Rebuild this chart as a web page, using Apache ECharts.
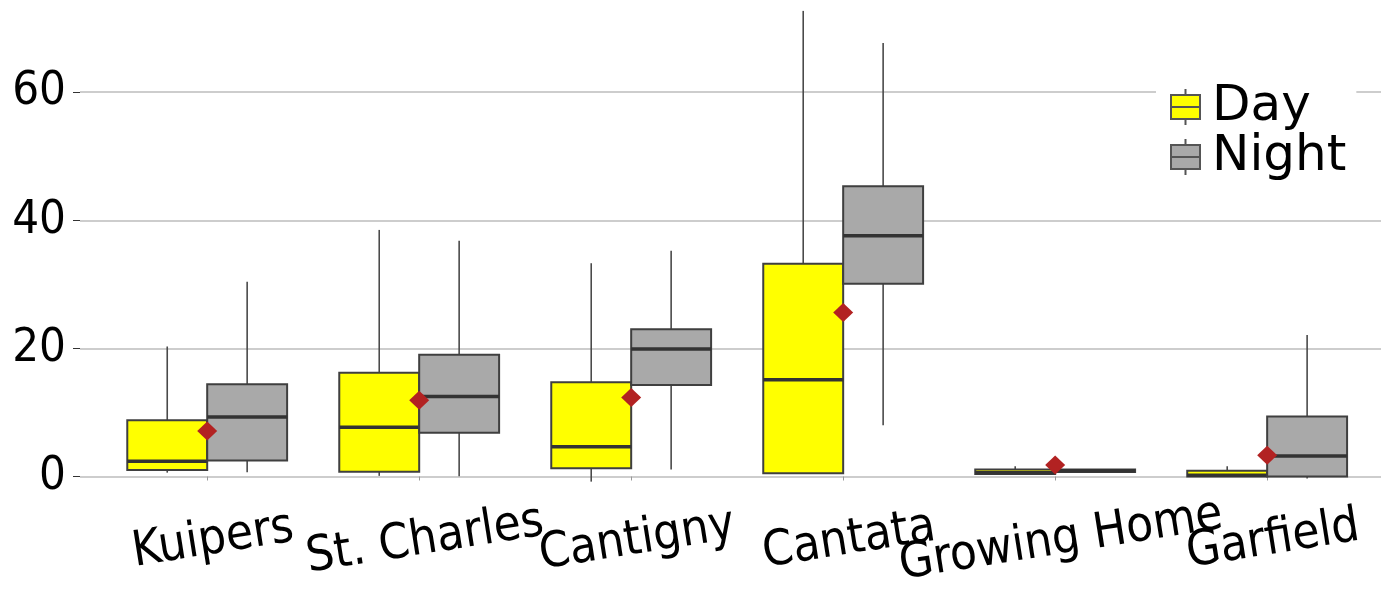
<!DOCTYPE html>
<html>
<head>
<meta charset="utf-8">
<script src="https://cdn.jsdelivr.net/npm/echarts@6/dist/echarts.min.js"></script>
<style>html,body{margin:0;padding:0;background:#fff;}#chart{width:1381px;height:591px;}</style>
</head>
<body>
<div id="chart"></div>
<script>
// ---- data ----
const categories = ['Kuipers', 'St. Charles', 'Cantigny', 'Cantata', 'Growing Home', 'Garfield'];
// [lower whisker, Q1, median, Q3, upper whisker]
const dayStats = [
  [0.6, 1.0, 2.4, 8.8, 20.3],
  [0.1, 0.75, 7.7, 16.2, 38.5],
  [-0.8, 1.3, 4.65, 14.7, 33.3],
  [0.5, 0.5, 15.1, 33.2, 72.7],
  [0.4, 0.4, 0.6, 1.1, 1.6],
  [0.0, 0.0, 0.2, 0.9, 1.6]
];
const nightStats = [
  [0.65, 2.5, 9.3, 14.4, 30.4],
  [0.05, 6.85, 12.5, 19.0, 36.8],
  [1.1, 14.3, 19.9, 23.0, 35.25],
  [8.0, 30.1, 37.6, 45.3, 67.7],
  [0.7, 0.7, 0.9, 1.1, 1.1],
  [-0.3, 0.0, 3.2, 9.35, 22.1]
];
const means = [7.1, 11.9, 12.35, 25.6, 1.8, 3.3];
const yTicks = [0, 20, 40, 60];

// ---- chart ----
const BOX_W = 0.377;
const DAY_COLOR = '#FFFF00';
const NIGHT_COLOR = '#A9A9A9';
const positions = categories.map((c, i) => i + 1);
const oddPositions = positions.filter(p => p % 2 === 1);
const evenPositions = positions.filter(p => p % 2 === 0);

function boxRenderer(shift, fill) {
  return function (params, api) {
    const pos = api.value(0) + shift;
    const lo = api.coord([pos, api.value(1)]);
    const q1 = api.coord([pos, api.value(2)]);
    const md = api.coord([pos, api.value(3)]);
    const q3 = api.coord([pos, api.value(4)]);
    const hi = api.coord([pos, api.value(5)]);
    const w = api.size([BOX_W, 0])[0];
    const cx = md[0];
    return {
      type: 'group',
      children: [
        { type: 'line', shape: { x1: cx, y1: hi[1], x2: cx, y2: q3[1] }, style: { stroke: '#4a4a4a', lineWidth: 1.6 } },
        { type: 'line', shape: { x1: cx, y1: q1[1], x2: cx, y2: lo[1] }, style: { stroke: '#4a4a4a', lineWidth: 1.6 } },
        { type: 'rect', shape: { x: cx - w / 2, y: q3[1], width: w, height: q1[1] - q3[1] }, style: { fill: fill, stroke: '#3f3f3f', lineWidth: 2 } },
        { type: 'line', shape: { x1: cx - w / 2, y1: md[1], x2: cx + w / 2, y2: md[1] }, style: { stroke: '#333333', lineWidth: 3.5 } }
      ]
    };
  };
}

const legendIcon = 'path://M0,6H29V30H0Z M0,18H29 M14.5,0V6 M14.5,30V36 M36,0';

function labelAxis(values, showTicks) {
  return {
    type: 'value',
    min: 0.4,
    max: 6.537,
    offset: 29,
    position: 'bottom',
    axisLine: { show: false },
    splitLine: { show: false },
    axisTick: { show: showTicks, customValues: positions, length: 4, lineStyle: { color: '#999' } },
    axisLabel: {
      customValues: values,
      showMinLabel: true,
      showMaxLabel: true,
      hideOverlap: false,
      formatter: v => categories[Math.round(v) - 1] || '',
      rotate: 9,
      align: 'center',
      verticalAlign: 'middle',
      margin: 36,
      padding: [0, 0, 0, 12],
      fontFamily: 'DejaVu Sans Condensed',
      fontSize: 49,
      color: '#000'
    }
  };
}

const chart = echarts.init(document.getElementById('chart'), null, { renderer: 'canvas' });
chart.setOption({
  animation: false,
  backgroundColor: '#ffffff',
  grid: { left: 80, right: 0, top: 0, bottom: 114.5, containLabel: false },
  legend: {
    orient: 'vertical',
    left: 1156,
    top: 77,
    padding: [5, 10, 5, 14],
    backgroundColor: '#ffffff',
    itemWidth: 36,
    itemHeight: 36,
    itemGap: 0,
    selectedMode: false,
    textStyle: { fontFamily: 'DejaVu Sans', fontSize: 50, color: '#000', lineHeight: 46 },
    data: [
      { name: 'Day', icon: legendIcon, itemStyle: { color: DAY_COLOR, borderColor: '#555', borderWidth: 2 } },
      { name: 'Night', icon: legendIcon, itemStyle: { color: NIGHT_COLOR, borderColor: '#555', borderWidth: 2 } }
    ]
  },
  xAxis: [labelAxis(oddPositions, true), labelAxis(evenPositions, false)],
  yAxis: {
    type: 'value',
    min: 0,
    max: 74.4,
    interval: 20,
    axisLine: { show: false },
    axisTick: { show: true, customValues: yTicks, length: 7, lineStyle: { color: '#333' } },
    splitLine: { show: true, lineStyle: { color: '#bdbdbd', width: 1.5 } },
    axisLabel: {
      customValues: yTicks,
      margin: 14,
      fontFamily: 'DejaVu Sans Condensed',
      fontSize: 47,
      color: '#000',
      formatter: v => (yTicks.indexOf(v) >= 0 ? String(v) : '')
    }
  },
  series: [
    {
      name: 'Day',
      type: 'custom',
      itemStyle: { color: DAY_COLOR },
      renderItem: boxRenderer(-BOX_W / 2, DAY_COLOR),
      encode: { x: 0, y: [1, 2, 3, 4, 5] },
      data: dayStats.map((s, i) => [positions[i]].concat(s)),
      z: 2
    },
    {
      name: 'Night',
      type: 'custom',
      itemStyle: { color: NIGHT_COLOR },
      renderItem: boxRenderer(BOX_W / 2, NIGHT_COLOR),
      encode: { x: 0, y: [1, 2, 3, 4, 5] },
      data: nightStats.map((s, i) => [positions[i]].concat(s)),
      z: 3
    },
    {
      name: 'Mean',
      type: 'scatter',
      symbol: 'diamond',
      symbolSize: [20, 19],
      itemStyle: { color: '#B22222', opacity: 1 },
      data: means.map((m, i) => [positions[i], m]),
      z: 10
    }
  ]
});
</script>
</body>
</html>
